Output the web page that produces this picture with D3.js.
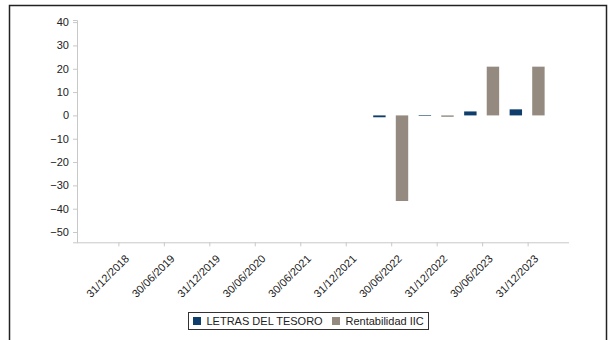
<!DOCTYPE html>
<html>
<head>
<meta charset="utf-8">
<script src="https://cdn.jsdelivr.net/npm/d3@7"></script>
<style>
  html, body { margin: 0; padding: 0; background: #fff; }
  svg { display: block; font-family: "Liberation Sans", Arial, sans-serif; }
</style>
</head>
<body>
<svg id="chart" width="611" height="340"></svg>
<script>
const categories = ["31/12/2018","30/06/2019","31/12/2019","30/06/2020","30/06/2021","31/12/2021","30/06/2022","31/12/2022","30/06/2023","31/12/2023"];
const seriesNames = ["LETRAS DEL TESORO","Rentabilidad IIC"];
const letras = [null,null,null,null,null,null,-0.8,0.1,1.7,2.6];
const rentabilidad = [null,null,null,null,null,null,-36.7,-0.6,20.9,20.9];
const yTicks = [40,30,20,10,0,-10,-20,-30,-40,-50];
const colors = ["#0f3e6c","#958a80"];

const svg = d3.select("#chart");

// outer frame
svg.append("rect").attr("x",9.5).attr("y",5.5).attr("width",597).attr("height",360)
  .attr("fill","none").attr("stroke","#222").attr("stroke-width",1.5);

const x = d3.scalePoint().domain(categories).range([77,569]).padding(0.91);
const x1 = d3.scaleBand().domain(seriesNames).range([-18,17]).paddingInner(0.45);
const y = d3.scaleLinear().domain([-54.4,40.9]).range([242.3,20]);

// y axis
const yAxis = d3.axisLeft(y).tickValues(yTicks).tickSize(4).tickPadding(4).tickFormat(d3.format("d"));
const gy = svg.append("g").attr("transform","translate(77,0)").call(yAxis);
gy.select(".domain").attr("stroke","#c8c8c8");
gy.selectAll(".tick line").attr("stroke","#c8c8c8");
gy.selectAll(".tick text").attr("fill","#222").attr("font-size",11).attr("font-family","Liberation Sans, Arial, sans-serif");

// x axis
const xAxis = d3.axisBottom(x).tickSize(4).tickSizeOuter(0);
const gx = svg.append("g").attr("transform","translate(0,242.3)").call(xAxis);
gx.select(".domain").attr("stroke","#c8c8c8").attr("d","M77,0.5H569");
gx.selectAll(".tick line").attr("stroke","#c8c8c8");
gx.selectAll(".tick text")
  .attr("fill","#222").attr("font-size",11).attr("font-family","Liberation Sans, Arial, sans-serif")
  .attr("text-anchor","end").attr("dy",null).attr("y",null)
  .attr("transform","translate(11,17) rotate(-45)");

// bars
const data = [letras, rentabilidad];
data.forEach((vals, si) => {
  const pts = categories.map((c,i) => ({c, v: vals[i]})).filter(d => d.v !== null);
  svg.append("g").selectAll("rect").data(pts).join("rect")
    .attr("x", d => x(d.c) + x1(seriesNames[si]))
    .attr("width", x1.bandwidth())
    .attr("y", d => y(Math.max(0,d.v)))
    .attr("height", d => Math.max(0.6, Math.abs(y(d.v) - y(0))))
    .attr("fill", colors[si]);
});

// legend
const lg = svg.append("g");
lg.append("rect").attr("x",188.5).attr("y",312.5).attr("width",240).attr("height",17)
  .attr("fill","#fff").attr("stroke","#333").attr("stroke-width",1);
const legendX = [193, 332];
seriesNames.forEach((s,i) => {
  lg.append("rect").attr("x",legendX[i]).attr("y",317).attr("width",8).attr("height",8).attr("fill",colors[i]);
  lg.append("text").attr("x",legendX[i]+13.5).attr("y",325).attr("font-size",11)
    .attr("fill","#222").attr("font-family","Liberation Sans, Arial, sans-serif").text(s);
});
</script>
</body>
</html>
